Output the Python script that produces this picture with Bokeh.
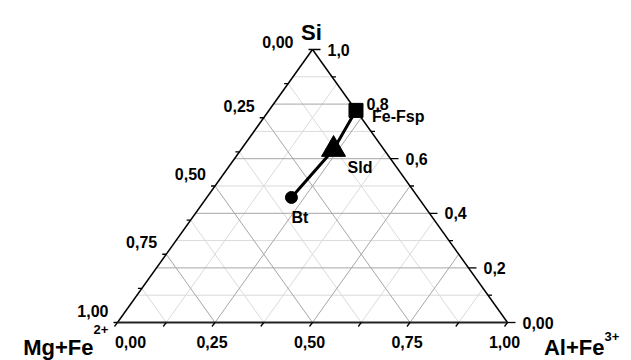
from bokeh.plotting import figure
from bokeh.models import Range1d, ColumnDataSource
from bokeh.core.properties import value
from bokeh.embed import file_html
from bokeh.resources import INLINE

# ---- data (ternary fractions) ----
names = ["Bt", "Sld", "Fe-Fsp"]
si = [0.458, 0.634, 0.777]
al = [0.217, 0.237, 0.223]
mg = [0.325, 0.129, 0.000]

si_ticks = [0.0, 0.2, 0.4, 0.6, 0.8, 1.0]
si_tick_labels = ["0,00", "0,2", "0,4", "0,6", "0,8", "1,0"]
si_minor = [0.1, 0.3, 0.5, 0.7, 0.9]
al_ticks = [0.0, 0.25, 0.5, 0.75, 1.0]
al_tick_labels = ["0,00", "0,25", "0,50", "0,75", "1,00"]
mg_ticks = [0.0, 0.25, 0.5, 0.75, 1.0]
mg_tick_labels = ["0,00", "0,25", "0,50", "0,75", "1,00"]
eighth_minor = [0.125, 0.375, 0.625, 0.875]

FONT = value("Liberation Sans")

def tx(a, s):
    return a + s / 2.0

# pixel scale: 390 px per unit in x, 273 px per unit in y
SX, SY = 390.0, 273.0
W, H = 631, 360
x0 = (0 - 117) / SX
y1 = (322 - 0) / SY
p = figure(width=W, height=H, output_backend="svg", toolbar_location=None,
           x_range=Range1d(x0, x0 + W / SX), y_range=Range1d(y1 - H / SY, y1),
           min_border=0, outline_line_color=None, x_axis_type=None, y_axis_type=None)
p.grid.visible = False
p.background_fill_color = "white"

major_col, minor_col = "#a6a6a6", "#dadada"

def si_segments(vals):
    xs, ys = [], []
    for v in vals:
        xs.append([v / 2, 1 - v / 2]); ys.append([v, v])
    return xs, ys

def al_segments(vals):
    xs, ys = [], []
    for a in vals:
        xs.append([a, a + (1 - a) / 2]); ys.append([0, 1 - a])
    return xs, ys

def mg_segments(vals):
    xs, ys = [], []
    for m in vals:
        xs.append([(1 - m) / 2, 1 - m]); ys.append([1 - m, 0])
    return xs, ys

# minor grid
for f, vals in ((si_segments, si_minor), (al_segments, eighth_minor), (mg_segments, eighth_minor)):
    xs, ys = f(vals)
    p.multi_line(xs, ys, line_color=minor_col, line_width=1)
# major grid
for f, vals in ((si_segments, si_ticks[1:-1]), (al_segments, al_ticks[1:-1]), (mg_segments, mg_ticks[1:-1])):
    xs, ys = f(vals)
    p.multi_line(xs, ys, line_color=major_col, line_width=1)

# triangle edges
p.line([0, 0.5], [0, 1], line_color="black", line_width=1.5)
p.line([0.5, 1], [1, 0], line_color="black", line_width=1.5)
p.line([0, 1], [0, 0], line_color="#222222", line_width=2)

# right (Si) ticks
for vals, ln in ((si_ticks, 8), (si_minor, 4)):
    xe = [1 - s / 2 for s in vals]
    p.segment(x0=xe, y0=vals, x1=[x + ln / SX for x in xe], y1=vals, line_color="black", line_width=1.3)
# bottom (Al) ticks, parallel to left edge
for vals in (al_ticks, eighth_minor):
    p.segment(x0=vals, y0=[0] * len(vals), x1=[a - 3 / SX for a in vals], y1=[-4 / SY] * len(vals),
              line_color="black", line_width=1.3)
# left (Mg) ticks
for vals in (mg_ticks, eighth_minor):
    xe = [(1 - m) / 2 for m in vals]
    ye = [1 - m for m in vals]
    p.segment(x0=xe, y0=ye, x1=[x - 4 / SX for x in xe], y1=ye, line_color="black", line_width=1.3)

# tick labels
p.text(x=[1 - s / 2 for s in si_ticks], y=si_ticks, text=si_tick_labels, x_offset=15, y_offset=0,
       text_align="left", text_baseline="middle", text_font=FONT, text_font_style="bold",
       text_font_size="16px", text_color="black")
p.text(x=al_ticks, y=[0] * len(al_ticks), text=al_tick_labels,
       x_offset=[13 if a == 0 else -3 for a in al_ticks], y_offset=19,
       text_align="center", text_baseline="middle", text_font=FONT, text_font_style="bold",
       text_font_size="16px", text_color="black")
p.text(x=[(1 - m) / 2 for m in mg_ticks], y=[1 - m for m in mg_ticks], text=mg_tick_labels,
       x_offset=[-19 if m == 0 else -9 for m in mg_ticks],
       y_offset=[-8 if m == 0 else -12 for m in mg_ticks],
       text_align="right", text_baseline="middle", text_font=FONT, text_font_style="bold",
       text_font_size="16px", text_color="black")

# axis titles
title_kw = dict(text_font=FONT, text_font_style="bold", text_color="black")
p.text(x=[0.5], y=[1], text=["Si"], x_offset=-1, y_offset=-17, text_align="center",
       text_baseline="alphabetic", text_font_size="22px", **title_kw)
p.text(x=[0], y=[0], text=["Mg+Fe"], x_offset=-24, y_offset=25, text_align="right",
       text_baseline="alphabetic", text_font_size="22px", **title_kw)
p.text(x=[0], y=[0], text=["2+"], x_offset=-24, y_offset=7, text_align="left",
       text_baseline="middle", text_font_size="13px", **title_kw)
p.text(x=[1], y=[0], text=["Al+Fe"], x_offset=97, y_offset=25, text_align="right",
       text_baseline="alphabetic", text_font_size="22px", **title_kw)
p.text(x=[1], y=[0], text=["3+"], x_offset=97, y_offset=14, text_align="left",
       text_baseline="middle", text_font_size="13px", **title_kw)

# data
px = [tx(a, s) for a, s in zip(al, si)]
src = ColumnDataSource(dict(x=px, y=si, name=names))
p.line(x="x", y="y", source=src, line_color="black", line_width=3)
p.scatter(x=[px[0]], y=[si[0]], marker="circle", size=12, fill_color="black", line_color="black")
p.scatter(x=[px[1]], y=[si[1]], marker="triangle", size=24, fill_color="black", line_color="black")
p.scatter(x=[px[2]], y=[si[2]], marker="square", size=14, fill_color="black", line_color="black")

p.text(x=px, y=si, text=names, x_offset=[0, 14, 16], y_offset=[20, 18, 6],
       text_align="left", text_baseline="middle", text_font=FONT, text_font_style="bold",
       text_font_size="16px", text_color="black")

open("out.html", "w").write(file_html(p, INLINE))
